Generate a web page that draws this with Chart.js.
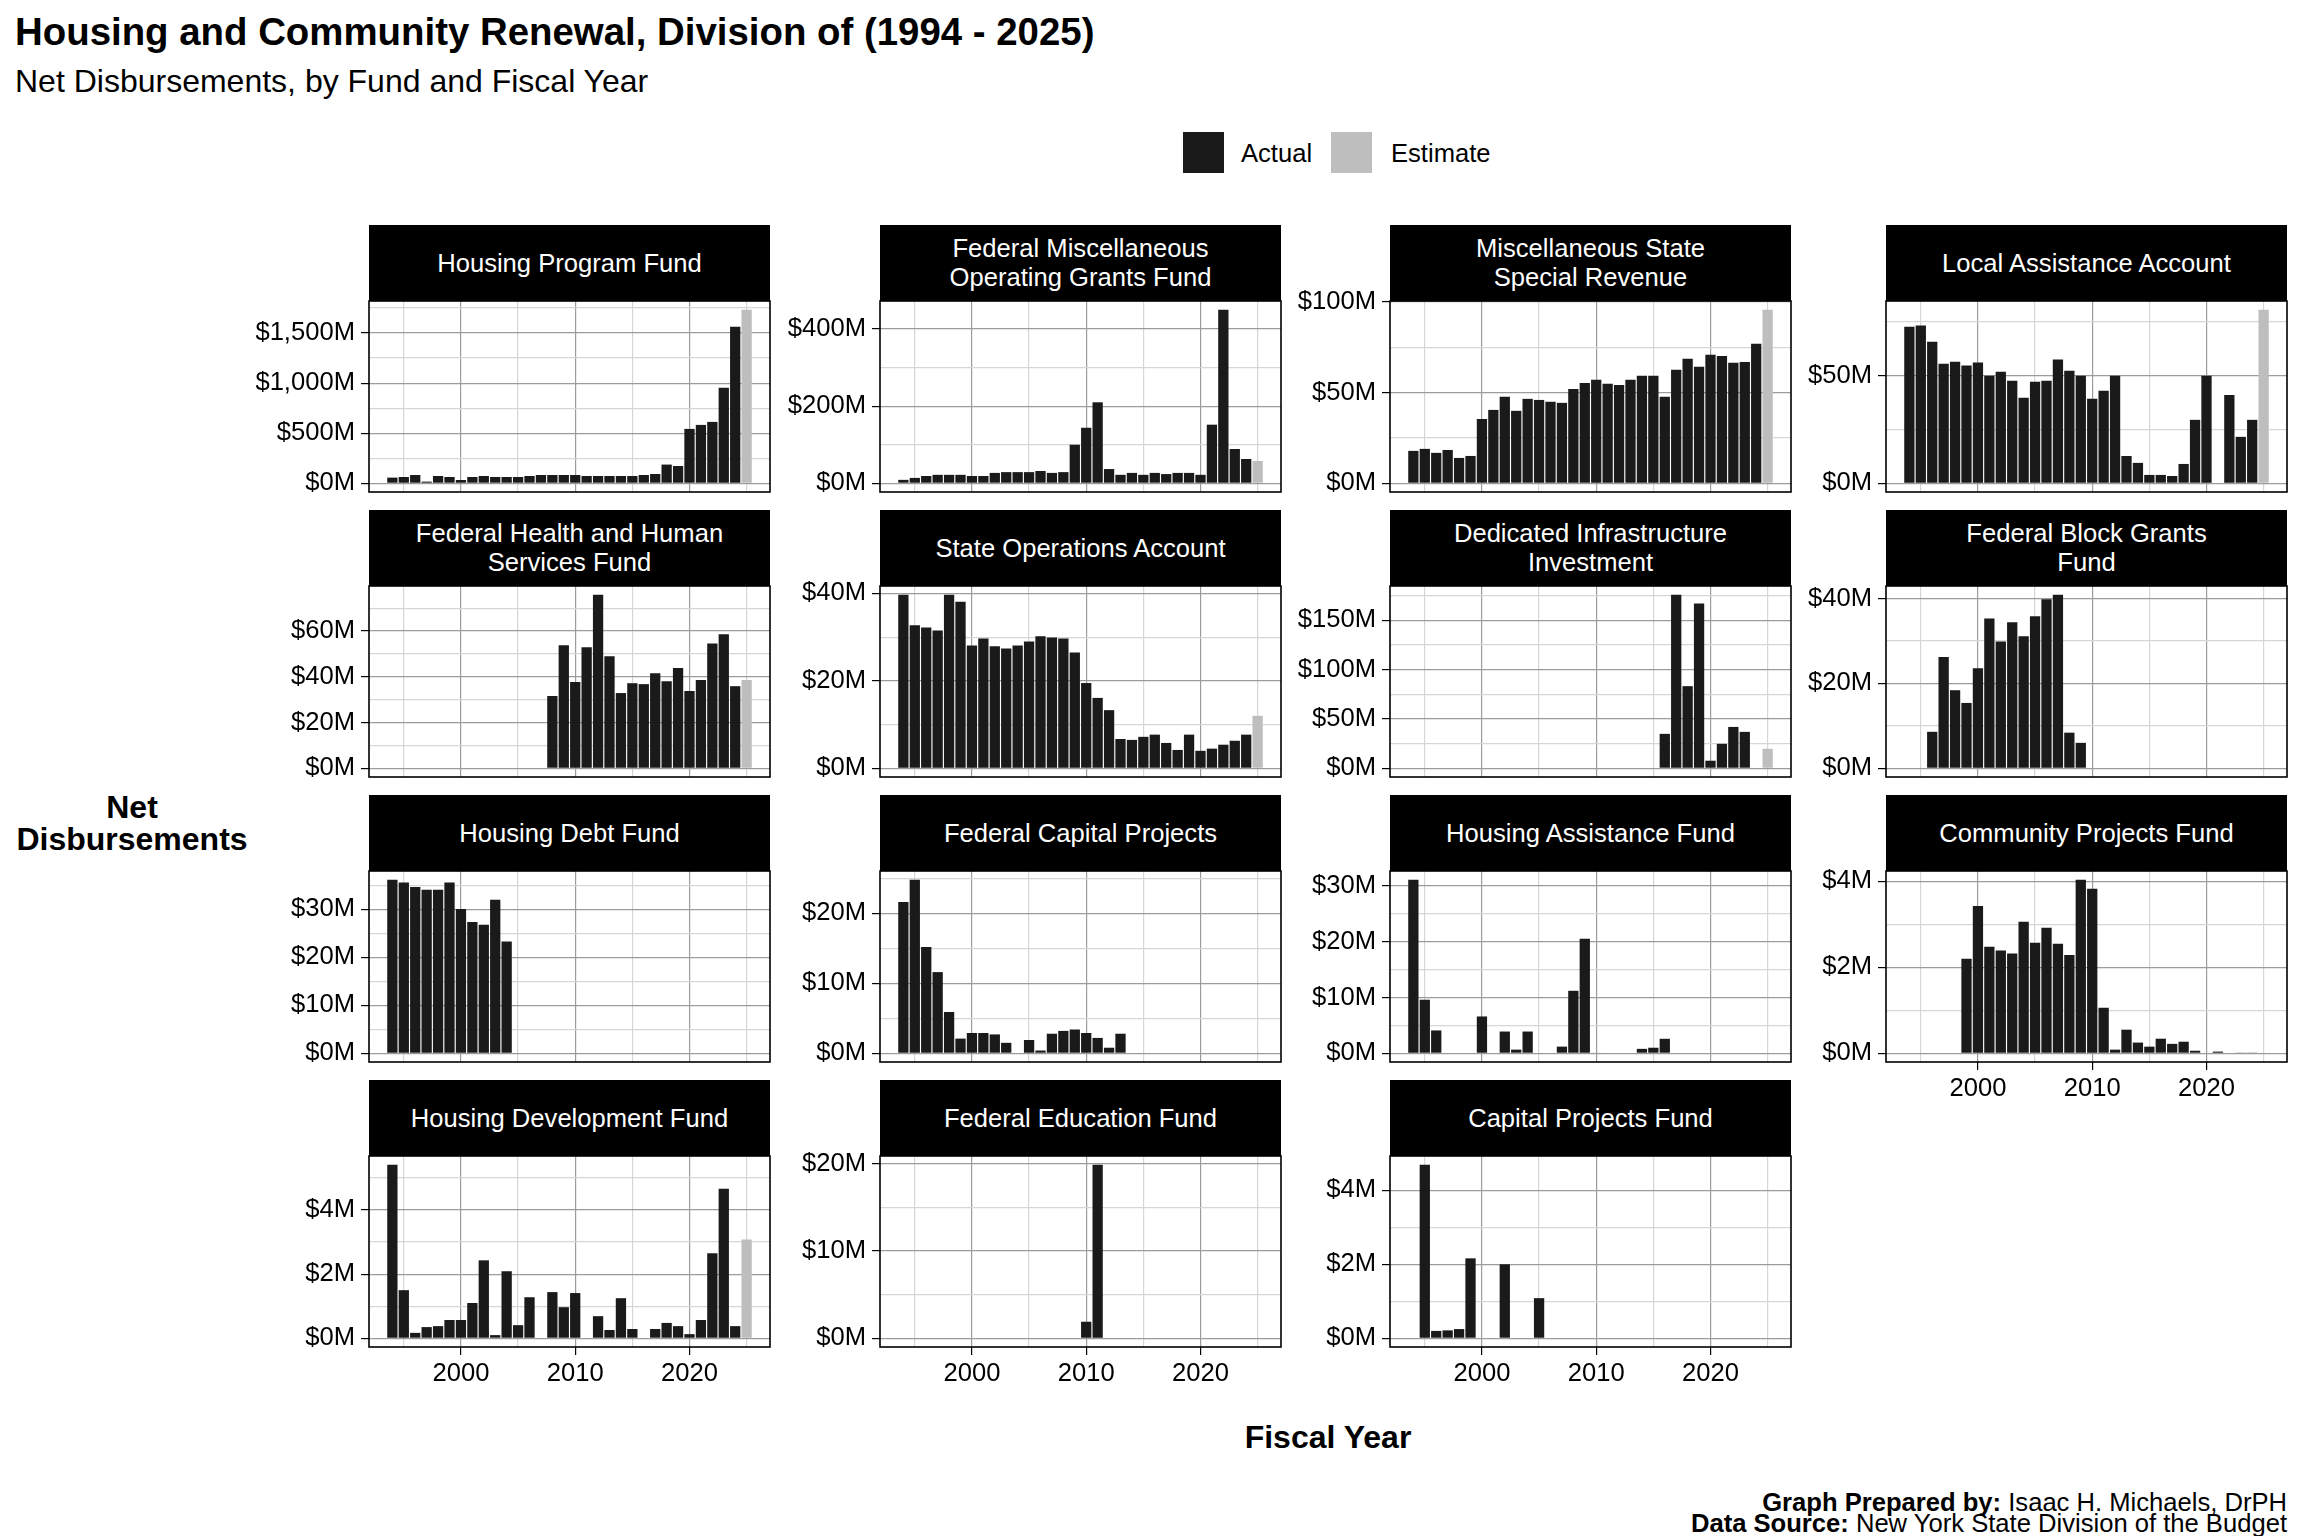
<!DOCTYPE html>
<html>
<head>
<meta charset="utf-8">
<title>Housing and Community Renewal, Division of (1994 - 2025)</title>
<script src="https://cdn.jsdelivr.net/npm/chart.js@4.4.1/dist/chart.umd.min.js"></script>
<style>
  body { margin: 0; background: #fff; font-family: "Liberation Sans", Arial, Helvetica, sans-serif; color: #000; }
  #page { position: relative; width: 2304px; height: 1536px; overflow: hidden; background: #fff; }
  .abs { position: absolute; white-space: nowrap; }
  .strip { position: absolute; background: #000; color: #fff; font-size: 25.6px; line-height: 29px;
           display: flex; align-items: center; justify-content: center; text-align: center; }
  .swatch { position: absolute; width: 41px; height: 41px; }
  canvas { position: absolute; }
</style>
</head>
<body>
<div id="page">
  <div class="abs" style="left:15px; top:10px; font-size:38.4px; line-height:44px; font-weight:bold;">Housing and Community Renewal, Division of (1994 - 2025)</div>
  <div class="abs" style="left:15px; top:62px; font-size:32px; line-height:38px;">Net Disbursements, by Fund and Fiscal Year</div>

  <div class="swatch" style="left:1183px; top:132px; background:#1a1a1a;"></div>
  <div class="abs" style="left:1241px; top:138px; font-size:25.6px; line-height:30px;">Actual</div>
  <div class="swatch" style="left:1331px; top:132px; background:#bebebe;"></div>
  <div class="abs" style="left:1391px; top:138px; font-size:25.6px; line-height:30px;">Estimate</div>

  <div class="abs" style="left:2px; width:260px; top:791px; font-size:32px; line-height:32px; font-weight:bold; text-align:center;">Net<br>Disbursements</div>
  <div class="abs" style="left:1128px; width:400px; top:1418px; font-size:32px; line-height:38px; font-weight:bold; text-align:center;">Fiscal Year</div>

  <div class="abs" style="right:17px; top:1492px; font-size:25.6px; line-height:21px; text-align:right;">
    <b>Graph Prepared by:</b> Isaac H. Michaels, DrPH<br><b>Data Source:</b> New York State Division of the Budget
  </div>
</div>
<script>
// Fiscal years on the x axis; the last one is an estimate
const years = [1994, 1995, 1996, 1997, 1998, 1999, 2000, 2001, 2002, 2003, 2004, 2005, 2006, 2007, 2008, 2009,
               2010, 2011, 2012, 2013, 2014, 2015, 2016, 2017, 2018, 2019, 2020, 2021, 2022, 2023, 2024, 2025];
const estimateYears = [2025];

// Net disbursements in $ millions, 1994 - 2025 (null = nothing that year)
const housingProgramFund = [57, 63, 83, 17, 73, 63, 33, 63, 73, 63, 63, 63, 73, 83, 83, 83,
                            83, 73, 73, 73, 73, 73, 83, 93, 187, 173, 543, 583, 613, 953, 1563, 1733];
const fedMiscOperatingGrants = [9, 14, 19, 22, 22, 22, 19, 19, 27, 29, 29, 29, 32, 27, 29, 100,
                                144, 210, 37, 22, 27, 22, 27, 24, 27, 27, 22, 152, 450, 89, 63, 58];
const miscStateSpecialRevenue = [17.9, 19, 16.8, 18.4, 14, 15.1, 35.5, 40.5, 47.7, 40, 46.6, 46, 45, 44.4, 52.1, 55.4,
                                 57.1, 54.9, 54.3, 57.1, 59.3, 59.3, 47.7, 62.6, 68.7, 64.3, 70.9, 70.3, 66.5, 67, 77, 95.8];
const localAssistanceAccount = [72.8, 73.3, 65.8, 55.6, 56.5, 54.7, 56.1, 50, 51.9, 47.7, 39.8, 47.2, 47.7, 57.5, 52.3, 50,
                                39.3, 43, 50, 12.7, 9.5, 3.9, 3.9, 3.4, 9, 29.5, 50, null, 41.1, 21.6, 29.5, 80.7];
const fedHealthHumanServices = [null, null, null, null, null, null, null, null, null, null, null, null, null, null, 31.6, 53.8,
                                37.7, 52.9, 75.9, 49, 32.9, 37.2, 36.8, 41.6, 38.1, 43.8, 33.8, 38.6, 54.6, 58.6, 35.9, 38.6];
const stateOperationsAccount = [39.7, 32.7, 32.2, 31.5, 39.7, 38.1, 28.1, 29.7, 27.9, 27.4, 28.1, 29, 30.2, 29.9, 29.7, 26.5,
                                19.5, 16.1, 13.3, 6.7, 6.5, 7.2, 7.7, 5.8, 4.2, 7.7, 4, 4.5, 5.4, 6.3, 7.7, 12];
const dedicatedInfrastructure = [null, null, null, null, null, null, null, null, null, null, null, null, null, null, null, null,
                                 null, null, null, null, null, null, 34.9, 175.8, 83.2, 166.8, 7.7, 24.8, 41.9, 36.9, null, 19.8];
const fedBlockGrants = [null, null, 8.6, 26.2, 18.4, 15.4, 23.6, 35.3, 29.9, 34.4, 31.1, 35.8, 39.8, 40.9, 8.4, 6.0,
                        null, null, null, null, null, null, null, null, null, null, null, null, null, null, null, null];
const housingDebtFund = [36.2, 35.6, 34.7, 34.1, 34.1, 35.6, 30.1, 27.4, 26.8, 32, 23.3, null, null, null, null, null,
                         null, null, null, null, null, null, null, null, null, null, null, null, null, null, null, null];
const fedCapitalProjects = [21.6, 24.8, 15.2, 11.6, 5.9, 2.1, 2.9, 2.9, 2.7, 1.5, null, 1.9, 0.4, 2.8, 3.2, 3.4,
                            2.9, 2.2, 0.8, 2.8, null, null, null, null, null, null, null, null, null, null, null, null];
const housingAssistanceFund = [31.1, 9.6, 4.1, null, null, null, 6.6, null, 3.9, 0.66, 3.9, null, null, 1.2, 11.2, 20.5,
                               0.1, null, null, null, 0.8, 1.0, 2.6, null, null, null, null, null, null, null, null, null];
const communityProjectsFund = [null, null, null, null, null, 2.2, 3.43, 2.48, 2.39, 2.32, 3.06, 2.57, 2.92, 2.55, 2.29, 4.04,
                               3.83, 1.06, 0.085, 0.55, 0.25, 0.155, 0.34, 0.22, 0.27, 0.06, null, 0.04, null, 0.01, 0.01, null];
const housingDevelopmentFund = [5.41, 1.5, 0.17, 0.35, 0.38, 0.57, 0.57, 1.1, 2.43, 0.1, 2.09, 0.41, 1.28, null, 1.44, 0.97,
                                1.41, null, 0.69, 0.26, 1.25, 0.29, null, 0.29, 0.48, 0.38, 0.13, 0.57, 2.65, 4.66, 0.38, 3.08];
const fedEducationFund = [null, null, null, null, null, null, null, null, null, null, null, null, null, null, null, null,
                          1.9, 19.9, null, null, null, null, null, null, null, null, null, null, null, null, null, null];
const capitalProjectsFund = [null, 4.69, 0.2, 0.215, 0.25, 2.16, null, null, 2.0, null, null, 1.085, null, null, null, null,
                             null, null, null, null, null, null, null, null, null, null, null, null, null, null, null, null];

// Panel titles in facet order
const fundNames = [
  'Housing Program Fund', 'Federal Miscellaneous\nOperating Grants Fund', 'Miscellaneous State\nSpecial Revenue', 'Local Assistance Account',
  'Federal Health and Human\nServices Fund', 'State Operations Account', 'Dedicated Infrastructure\nInvestment', 'Federal Block Grants\nFund',
  'Housing Debt Fund', 'Federal Capital Projects', 'Housing Assistance Fund', 'Community Projects Fund',
  'Housing Development Fund', 'Federal Education Fund', 'Capital Projects Fund'
];
const fundValues = [
  housingProgramFund, fedMiscOperatingGrants, miscStateSpecialRevenue, localAssistanceAccount,
  fedHealthHumanServices, stateOperationsAccount, dedicatedInfrastructure, fedBlockGrants,
  housingDebtFund, fedCapitalProjects, housingAssistanceFund, communityProjectsFund,
  housingDevelopmentFund, fedEducationFund, capitalProjectsFund
];

// Labelled y-axis breaks ($M) per panel, and x-axis breaks
const yBreaks = [
  [0, 500, 1000, 1500], [0, 200, 400], [0, 50, 100], [0, 50],
  [0, 20, 40, 60], [0, 20, 40], [0, 50, 100, 150], [0, 20, 40],
  [0, 10, 20, 30], [0, 10, 20], [0, 10, 20, 30], [0, 2, 4],
  [0, 2, 4], [0, 10, 20], [0, 2, 4]
];
const xBreaks = [2000, 2010, 2020];
const xMinorBreaks = [1995, 2005, 2015, 2025];

// layout of the facet grid (page pixels)
const colLeft = [369, 880, 1390, 1886];
const rowTop = [301, 586, 871, 1156];
const panelW = 401, panelH = 191, stripH = 76, axisW = 130, xAxisH = 50;
const pad = 18; // room above/below the panel so edge tick labels are not clipped

const actualColor = '#1a1a1a';
const estimateColor = '#bebebe';
const majorGrid = '#9c9c9c';
const minorGrid = '#d6d6d6';

Chart.defaults.font.family = '"Liberation Sans", Arial, Helvetica, sans-serif';
Chart.defaults.font.size = 25.6;
Chart.defaults.color = '#000';

const panelBorder = {
  id: 'panelBorder',
  afterDraw(chart) {
    const { ctx, chartArea: a } = chart;
    ctx.save();
    ctx.strokeStyle = '#000';
    ctx.lineWidth = 1.6;
    ctx.strokeRect(a.left, a.top, a.right - a.left, a.bottom - a.top);
    ctx.restore();
  }
};

const page = document.getElementById('page');

fundNames.forEach((name, i) => {
  const col = i % 4;
  const row = Math.floor(i / 4);
  const showX = i + 4 >= fundNames.length;
  const values = fundValues[i];
  const majors = yBreaks[i];

  // ggplot-style range: 5% expansion around [0, max]
  const maxVal = Math.max(...values.filter(v => v !== null));
  const yMin = -0.05 * maxVal;
  const yMax = 1.05 * maxVal;
  const step = majors[1] - majors[0];
  const minors = [majors[0] - step / 2, ...majors.map(v => v + step / 2)].filter(v => v > yMin && v < yMax);

  // strip label
  const strip = document.createElement('div');
  strip.className = 'strip';
  strip.style.left = colLeft[col] + 'px';
  strip.style.top = (rowTop[row] - stripH) + 'px';
  strip.style.width = panelW + 'px';
  strip.style.height = stripH + 'px';
  strip.innerText = name;
  page.appendChild(strip);

  const canvas = document.createElement('canvas');
  const w = axisW + panelW + 1;
  const padBottom = showX ? 1 : pad;
  const h = pad + panelH + padBottom + (showX ? xAxisH : 0);
  canvas.width = w;
  canvas.height = h;
  canvas.style.width = w + 'px';
  canvas.style.height = h + 'px';
  canvas.style.left = (colLeft[col] - axisW) + 'px';
  canvas.style.top = (rowTop[row] - pad) + 'px';
  page.appendChild(canvas);

  new Chart(canvas, {
    type: 'bar',
    data: {
      datasets: [{
        label: name,
        data: years.map((yr, k) => ({ x: yr, y: values[k] })),
        backgroundColor: ctx => estimateYears.includes(years[ctx.dataIndex]) ? estimateColor : actualColor,
        borderWidth: 0,
        barPercentage: 0.9,
        categoryPercentage: 1.0
      }]
    },
    options: {
      responsive: false,
      animation: false,
      devicePixelRatio: 1,
      layout: { padding: { left: 0, top: pad, right: 1, bottom: padBottom } },
      plugins: { legend: { display: false }, tooltip: { enabled: false } },
      scales: {
        x: {
          type: 'linear',
          min: 1991.955,
          max: 2027.045,
          offset: false,
          border: { display: false },
          afterBuildTicks: scale => {
            scale.ticks = [...xMinorBreaks, ...xBreaks].sort((a, b) => a - b).map(v => ({ value: v }));
          },
          afterFit: scale => {
            scale.height = showX ? xAxisH : 0;
            scale.paddingLeft = 0;
            scale.paddingRight = 0;
          },
          grid: {
            offset: false,
            drawTicks: showX,
            tickLength: 8,
            color: ctx => xBreaks.includes(ctx.tick && ctx.tick.value) ? majorGrid : minorGrid,
            tickColor: ctx => xBreaks.includes(ctx.tick && ctx.tick.value) ? '#000' : 'rgba(0,0,0,0)',
            lineWidth: 1.2
          },
          ticks: {
            display: showX,
            autoSkip: false,
            maxRotation: 0,
            padding: 4,
            callback: v => xBreaks.includes(v) ? String(v) : ''
          }
        },
        y: {
          type: 'linear',
          min: yMin,
          max: yMax,
          border: { display: false },
          afterBuildTicks: scale => {
            scale.ticks = [...majors, ...minors].sort((a, b) => a - b).map(v => ({ value: v }));
          },
          afterFit: scale => {
            scale.width = axisW;
            scale.paddingTop = 0;
            scale.paddingBottom = 0;
          },
          grid: {
            drawTicks: true,
            tickLength: 8,
            color: ctx => majors.includes(ctx.tick && ctx.tick.value) ? majorGrid : minorGrid,
            tickColor: ctx => majors.includes(ctx.tick && ctx.tick.value) ? '#000' : 'rgba(0,0,0,0)',
            lineWidth: 1.2
          },
          ticks: {
            autoSkip: false,
            padding: 6,
            callback: v => majors.includes(v) ? '$' + v.toLocaleString('en-US') + 'M' : ''
          }
        }
      }
    },
    plugins: [panelBorder]
  });
});
</script>
</body>
</html>
